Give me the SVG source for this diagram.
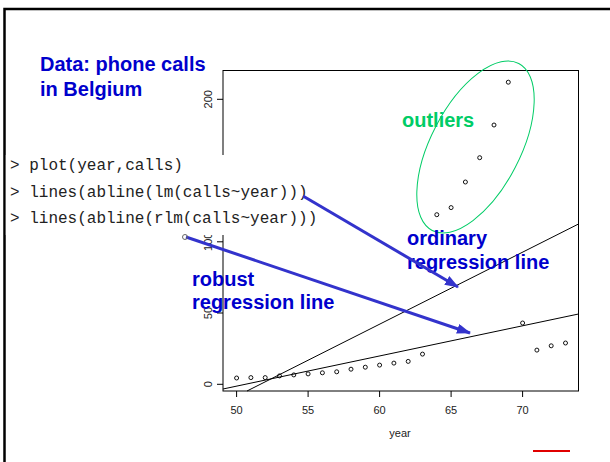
<svg xmlns="http://www.w3.org/2000/svg" width="610" height="462" viewBox="0 0 610 462">
<style>
.title{font-family:"Liberation Sans",Arial,sans-serif;font-weight:bold;font-size:20px;fill:#0000CC}
.green{font-family:"Liberation Sans",Arial,sans-serif;font-weight:bold;font-size:20px;fill:#00CC66}
.code{font-family:"Liberation Mono","Courier New",monospace;font-size:16px;fill:#222}
.ax{font-family:"Liberation Sans",Arial,sans-serif;font-size:11px;fill:#222}
.pt{fill:none;stroke:#111;stroke-width:1}
.ln{stroke:#000;stroke-width:1;fill:none}
.arrow{stroke:#3333CC;stroke-width:3;fill:none}
</style>
<defs>
<marker id="ah" markerWidth="14" markerHeight="10" refX="13" refY="5" orient="auto" markerUnits="userSpaceOnUse">
<path d="M0,0 L14,5 L0,10 z" fill="#3333CC"/>
</marker>
</defs>
<rect x="0" y="0" width="610" height="462" fill="#fff"/>
<rect x="4.5" y="9" width="700" height="500" fill="none" stroke="#000" stroke-width="2.5"/>

<g id="plot">
<rect x="223" y="70.5" width="355.5" height="320.5" class="ln"/>
<g class="ln">
<line x1="236.6" y1="391" x2="236.6" y2="397"/>
<line x1="308.1" y1="391" x2="308.1" y2="397"/>
<line x1="379.6" y1="391" x2="379.6" y2="397"/>
<line x1="451.1" y1="391" x2="451.1" y2="397"/>
<line x1="522.6" y1="391" x2="522.6" y2="397"/>
<line x1="217" y1="384.3" x2="223" y2="384.3"/>
<line x1="217" y1="313" x2="223" y2="313"/>
<line x1="217" y1="241.8" x2="223" y2="241.8"/>
<line x1="217" y1="99.3" x2="223" y2="99.3"/>
</g>
<g class="ax" text-anchor="middle">
<text x="236.6" y="414">50</text>
<text x="308.1" y="414">55</text>
<text x="379.6" y="414">60</text>
<text x="451.1" y="414">65</text>
<text x="522.6" y="414">70</text>
<text x="400" y="437">year</text>
<text transform="translate(212,384.3) rotate(-90)">0</text>
<text transform="translate(212,313) rotate(-90)">50</text>
<text transform="translate(212,241.8) rotate(-90)">100</text>
<text transform="translate(212,99.3) rotate(-90)">200</text>
</g>
<g class="pt">
<circle cx="236.6" cy="378.0" r="2"/>
<circle cx="250.9" cy="377.6" r="2"/>
<circle cx="265.2" cy="377.6" r="2"/>
<circle cx="279.5" cy="375.9" r="2"/>
<circle cx="293.8" cy="374.9" r="2"/>
<circle cx="308.1" cy="373.9" r="2"/>
<circle cx="322.4" cy="372.8" r="2"/>
<circle cx="336.7" cy="371.8" r="2"/>
<circle cx="351.0" cy="369.2" r="2"/>
<circle cx="365.3" cy="367.2" r="2"/>
<circle cx="379.6" cy="365.1" r="2"/>
<circle cx="393.9" cy="363.1" r="2"/>
<circle cx="408.2" cy="361.4" r="2"/>
<circle cx="422.5" cy="354.1" r="2"/>
<circle cx="436.8" cy="214.7" r="2"/>
<circle cx="451.1" cy="207.6" r="2"/>
<circle cx="465.4" cy="182.0" r="2"/>
<circle cx="479.7" cy="157.7" r="2"/>
<circle cx="494.0" cy="125.0" r="2"/>
<circle cx="508.3" cy="82.2" r="2"/>
<circle cx="522.6" cy="323.0" r="2"/>
<circle cx="536.9" cy="350.1" r="2"/>
<circle cx="551.2" cy="345.8" r="2"/>
<circle cx="565.5" cy="343.0" r="2"/>
</g>
<line class="ln" x1="247" y1="391" x2="578.5" y2="224"/>
<line class="ln" x1="223" y1="389" x2="578.5" y2="314"/>
</g>

<rect x="5.8" y="155" width="312" height="80" fill="#fff"/>

<g id="code" class="code">
<text x="10" y="170">&gt; plot(year,calls)</text>
<text x="10" y="197">&gt; lines(abline(lm(calls~year)))</text>
<text x="10" y="223">&gt; lines(abline(rlm(calls~year)))</text>
</g>

<g id="title" class="title">
<text x="40" y="71">Data: phone calls</text>
<text x="40" y="96">in Belgium</text>
</g>

<g id="outliers">
<ellipse cx="0" cy="0" rx="94" ry="44.7" transform="translate(475.5,147) rotate(-62.6)" fill="none" stroke="#00CC66" stroke-width="1"/>
<text class="green" x="402" y="127">outliers</text>
</g>

<g id="ordinary" class="title">
<text x="407" y="245">ordinary</text>
<text x="407" y="269">regression line</text>
</g>

<g id="robust" class="title">
<text x="192" y="286">robust</text>
<text x="192" y="309">regression line</text>
</g>

<g id="connectors">
<line class="arrow" x1="303" y1="196" x2="458" y2="287" marker-end="url(#ah)"/>
<line class="arrow" x1="186" y1="237" x2="470" y2="333" marker-end="url(#ah)"/>
<circle cx="185" cy="237" r="2.5" fill="none" stroke="#666" stroke-width="1"/>
</g>

<line x1="533" y1="451" x2="570" y2="451" stroke="#E00000" stroke-width="2"/>
</svg>
